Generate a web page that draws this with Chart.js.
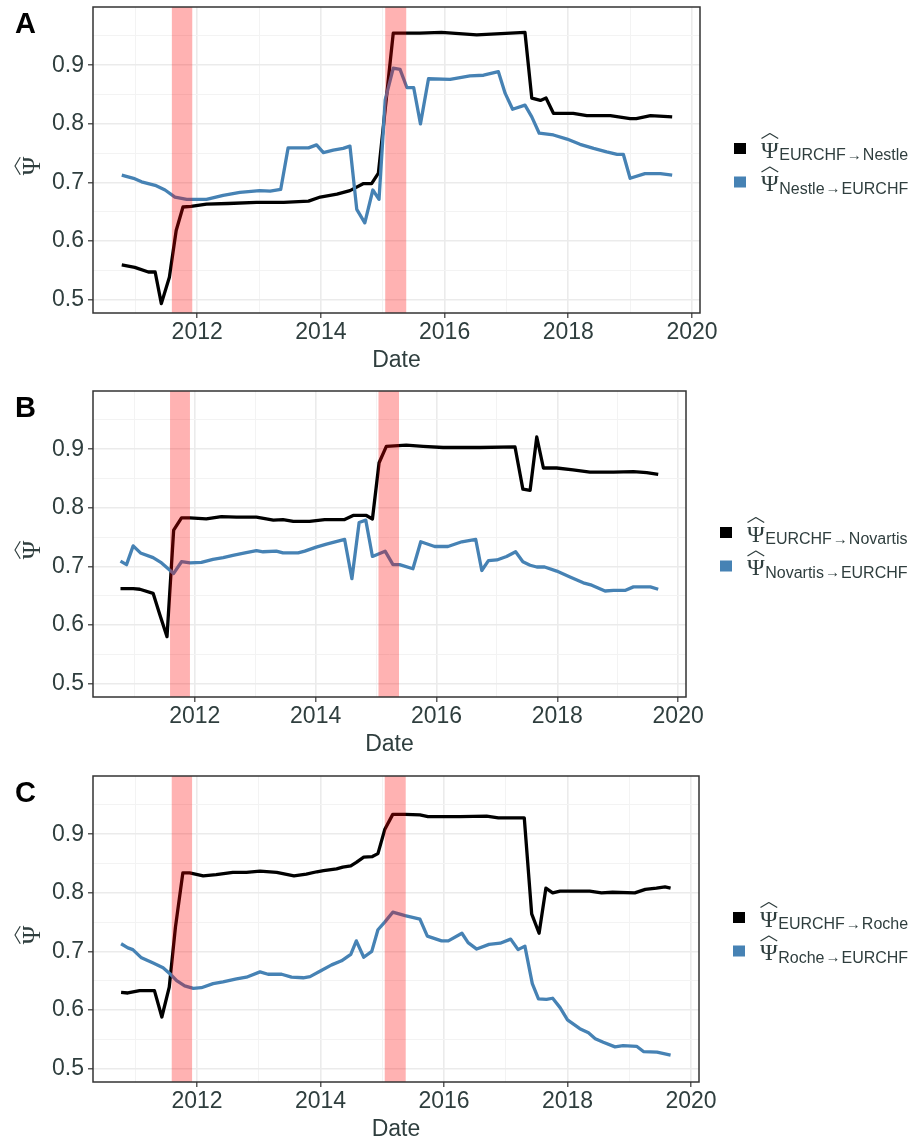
<!DOCTYPE html>
<html>
<head>
<meta charset="utf-8">
<title>Psi panels</title>
<script src="https://cdn.jsdelivr.net/npm/chart.js@4/dist/chart.umd.min.js"></script>
<style>
  html, body { margin: 0; padding: 0; background: #fff; }
  #wrap { position: relative; width: 913px; height: 1144px; overflow: hidden; }
  #wrap canvas { position: absolute; left: 0; }
</style>
</head>
<body>
<div id="wrap">
  <canvas id="panelA" width="913" height="375" style="top:0px"></canvas>
  <canvas id="panelB" width="913" height="375" style="top:384px"></canvas>
  <canvas id="panelC" width="913" height="375" style="top:769px"></canvas>
</div>
<script>
// ─── Data (dates in decimal years) ─────────────
const xTickVals = [2011, 2012, 2013, 2014, 2015, 2016, 2017, 2018, 2019, 2020];
const yTickVals = [0.5, 0.55, 0.6, 0.65, 0.7, 0.75, 0.8, 0.85, 0.9, 0.95];
const bandStart = [2011.59, 2015.04];
const bandEnd   = [2011.92, 2015.38];

// A: Nestle
const nestleOutX = [2010.78, 2010.99, 2011.21, 2011.32, 2011.42, 2011.55, 2011.66, 2011.77, 2011.9, 2012.15, 2012.5, 2012.96, 2013.4, 2013.8, 2013.99, 2014.26, 2014.47, 2014.69, 2014.82, 2014.93, 2015.17, 2015.6, 2015.95, 2016.52, 2017.3, 2017.41, 2017.55, 2017.64, 2017.76, 2018.08, 2018.3, 2018.68, 2019.0, 2019.1, 2019.33, 2019.68];
const nestleOut  = [0.559, 0.555, 0.547, 0.547, 0.493, 0.538, 0.618, 0.658, 0.659, 0.663, 0.664, 0.666, 0.666, 0.668, 0.675, 0.68, 0.686, 0.698, 0.698, 0.716, 0.955, 0.955, 0.956, 0.952, 0.956, 0.844, 0.84, 0.844, 0.818, 0.818, 0.814, 0.814, 0.809, 0.809, 0.814, 0.812];
const nestleInX  = [2010.78, 2010.97, 2011.1, 2011.32, 2011.48, 2011.64, 2011.83, 2012.15, 2012.42, 2012.69, 2013.01, 2013.18, 2013.35, 2013.47, 2013.8, 2013.93, 2014.04, 2014.2, 2014.36, 2014.47, 2014.58, 2014.71, 2014.84, 2014.94, 2015.04, 2015.17, 2015.28, 2015.39, 2015.5, 2015.61, 2015.74, 2016.09, 2016.41, 2016.63, 2016.87, 2016.98, 2017.1, 2017.3, 2017.41, 2017.53, 2017.76, 2017.98, 2018.19, 2018.41, 2018.62, 2018.79, 2018.89, 2019.0, 2019.24, 2019.49, 2019.68];
const nestleIn   = [0.7125, 0.707, 0.701, 0.695, 0.687, 0.675, 0.671, 0.671, 0.678, 0.683, 0.686, 0.685, 0.688, 0.759, 0.759, 0.764, 0.751, 0.755, 0.758, 0.762, 0.654, 0.631, 0.687, 0.671, 0.841, 0.895, 0.893, 0.862, 0.862, 0.8, 0.877, 0.876, 0.882, 0.883, 0.889, 0.852, 0.825, 0.832, 0.812, 0.784, 0.781, 0.774, 0.765, 0.758, 0.752, 0.748, 0.748, 0.707, 0.715, 0.715, 0.7125];

// B: Novartis
const novartisOutX = [2010.77, 2010.98, 2011.09, 2011.31, 2011.42, 2011.54, 2011.65, 2011.78, 2011.92, 2012.19, 2012.44, 2012.69, 2013.02, 2013.3, 2013.46, 2013.63, 2013.9, 2014.15, 2014.48, 2014.62, 2014.84, 2014.94, 2015.05, 2015.17, 2015.5, 2015.78, 2016.11, 2016.72, 2017.3, 2017.43, 2017.55, 2017.66, 2017.77, 2017.99, 2018.26, 2018.54, 2018.93, 2019.26, 2019.48, 2019.67];
const novartisOut  = [0.662, 0.662, 0.661, 0.654, 0.618, 0.58, 0.762, 0.783, 0.783, 0.781, 0.785, 0.784, 0.784, 0.779, 0.78, 0.777, 0.777, 0.78, 0.78, 0.787, 0.787, 0.781, 0.877, 0.905, 0.907, 0.905, 0.903, 0.903, 0.904, 0.832, 0.83, 0.921, 0.868, 0.868, 0.865, 0.861, 0.861, 0.862, 0.86, 0.857];
const novartisInX  = [2010.77, 2010.87, 2010.98, 2011.1, 2011.31, 2011.45, 2011.65, 2011.78, 2011.92, 2012.11, 2012.3, 2012.47, 2012.63, 2012.83, 2013.02, 2013.13, 2013.35, 2013.46, 2013.71, 2013.82, 2014.01, 2014.18, 2014.48, 2014.6, 2014.72, 2014.83, 2014.94, 2015.15, 2015.28, 2015.39, 2015.61, 2015.74, 2015.97, 2016.19, 2016.42, 2016.65, 2016.75, 2016.86, 2017.0, 2017.16, 2017.31, 2017.43, 2017.55, 2017.66, 2017.79, 2017.99, 2018.21, 2018.43, 2018.57, 2018.79, 2018.93, 2019.12, 2019.26, 2019.54, 2019.67];
const novartisIn   = [0.709, 0.703, 0.735, 0.723, 0.715, 0.706, 0.688, 0.708, 0.706, 0.707, 0.712, 0.715, 0.719, 0.723, 0.727, 0.725, 0.726, 0.723, 0.723, 0.726, 0.733, 0.738, 0.746, 0.679, 0.775, 0.779, 0.717, 0.726, 0.703, 0.703, 0.696, 0.742, 0.734, 0.734, 0.742, 0.746, 0.693, 0.71, 0.711, 0.717, 0.725, 0.708, 0.702, 0.699, 0.699, 0.692, 0.682, 0.672, 0.668, 0.658, 0.659, 0.659, 0.665, 0.665, 0.661];

// C: Roche
const rocheOutX = [2010.77, 2010.88, 2011.07, 2011.31, 2011.43, 2011.55, 2011.65, 2011.77, 2011.88, 2012.1, 2012.31, 2012.58, 2012.8, 2013.02, 2013.29, 2013.57, 2013.77, 2013.94, 2014.05, 2014.26, 2014.36, 2014.49, 2014.58, 2014.7, 2014.84, 2014.93, 2015.04, 2015.17, 2015.37, 2015.61, 2015.74, 2016.26, 2016.69, 2016.88, 2017.3, 2017.42, 2017.54, 2017.65, 2017.76, 2017.88, 2018.12, 2018.36, 2018.55, 2018.73, 2019.09, 2019.26, 2019.44, 2019.58, 2019.67];
const rocheOut  = [0.63, 0.629, 0.633, 0.633, 0.588, 0.639, 0.741, 0.834, 0.834, 0.829, 0.831, 0.835, 0.835, 0.837, 0.835, 0.829, 0.832, 0.836, 0.838, 0.841, 0.844, 0.846, 0.852, 0.861, 0.862, 0.867, 0.908, 0.934, 0.934, 0.933, 0.93, 0.93, 0.931, 0.928, 0.928, 0.764, 0.731, 0.808, 0.8, 0.803, 0.803, 0.803, 0.8, 0.801, 0.8, 0.806, 0.808, 0.81, 0.808];
const rocheInX  = [2010.77, 2010.88, 2010.96, 2011.1, 2011.29, 2011.45, 2011.56, 2011.67, 2011.8, 2011.94, 2012.07, 2012.26, 2012.42, 2012.64, 2012.8, 2013.02, 2013.15, 2013.37, 2013.53, 2013.72, 2013.83, 2013.99, 2014.18, 2014.34, 2014.49, 2014.58, 2014.7, 2014.83, 2014.93, 2015.04, 2015.17, 2015.37, 2015.61, 2015.73, 2015.96, 2016.07, 2016.29, 2016.39, 2016.53, 2016.73, 2016.91, 2017.08, 2017.2, 2017.31, 2017.43, 2017.53, 2017.66, 2017.76, 2017.88, 2018.0, 2018.2, 2018.34, 2018.45, 2018.58, 2018.77, 2018.9, 2019.12, 2019.23, 2019.45, 2019.67];
const rocheIn   = [0.713, 0.706, 0.703, 0.689, 0.68, 0.672, 0.662, 0.65, 0.641, 0.637, 0.638, 0.645, 0.648, 0.653, 0.656, 0.665, 0.661, 0.661, 0.656, 0.655, 0.657, 0.666, 0.677, 0.684, 0.695, 0.718, 0.69, 0.7, 0.737, 0.75, 0.767, 0.761, 0.755, 0.726, 0.718, 0.718, 0.731, 0.715, 0.704, 0.712, 0.714, 0.721, 0.703, 0.709, 0.645, 0.619, 0.618, 0.62, 0.604, 0.583, 0.568, 0.561, 0.551, 0.545, 0.537, 0.539, 0.538, 0.529, 0.528, 0.523];

// ─── Style ─────────────────────────────────────
const SANS  = '"Liberation Sans", Arial, sans-serif';
const SERIF = '"Liberation Serif", "DejaVu Serif", serif';
const INK = '#2F3E3E';
const GRID_MAJOR = '#EBEBEB';
const GRID_MINOR = '#F3F3F3';
const BLUE = '#4682B4';

const isMajorY = v => Math.round(v * 100) % 10 === 0;
const isMajorX = v => Math.round(v) % 2 === 0;
const zip = (xs, ys) => xs.map((x, i) => ({ x, y: ys[i] }));

// Ψ with a wide hat, returns glyph width
function drawPsi(ctx, x, base, size) {
  ctx.font = size + 'px ' + SERIF;
  ctx.textAlign = 'left';
  ctx.textBaseline = 'alphabetic';
  ctx.fillText('\u03A8', x, base);
  const w = ctx.measureText('\u03A8').width;
  ctx.beginPath();
  ctx.moveTo(x + 0.5, base - size * 0.79);
  ctx.lineTo(x + w / 2, base - size * 1.0);
  ctx.lineTo(x + w - 0.5, base - size * 0.79);
  ctx.lineWidth = 1.2;
  ctx.lineJoin = 'round';
  ctx.stroke();
  return w;
}

// subscript "A→B"
function drawSub(ctx, x, base, left, right) {
  ctx.font = '16px ' + SANS;
  ctx.fillText(left, x, base);
  x += ctx.measureText(left).width + 1;
  ctx.font = '15px ' + SERIF;
  ctx.fillText('\u2192', x, base - 0.5);
  x += ctx.measureText('\u2192').width + 1;
  ctx.font = '16px ' + SANS;
  ctx.fillText(right, x, base);
}

// ─── Decorations: bands, frame, labels, legend ─
const decor = {
  id: 'decor',
  afterDatasetsDraw(chart) {
    const { ctx, chartArea: a, scales: { x } } = chart;
    ctx.save();
    ctx.beginPath();
    ctx.rect(a.left, a.top, a.right - a.left, a.bottom - a.top);
    ctx.clip();
    ctx.fillStyle = 'rgba(255,0,0,0.3)';
    bandStart.forEach((s, i) => {
      const x0 = x.getPixelForValue(s), x1 = x.getPixelForValue(bandEnd[i]);
      ctx.fillRect(x0, a.top, x1 - x0, a.bottom - a.top);
    });
    ctx.restore();
  },
  afterDraw(chart, args, opts) {
    const { ctx, chartArea: a } = chart;
    ctx.save();
    // panel frame
    ctx.strokeStyle = '#333333';
    ctx.lineWidth = 1.5;
    ctx.strokeRect(a.left, a.top, a.right - a.left, a.bottom - a.top);

    // panel letter
    ctx.fillStyle = '#000';
    ctx.font = 'bold 29px ' + SANS;
    ctx.textAlign = 'left';
    ctx.textBaseline = 'alphabetic';
    ctx.fillText(opts.letter, 15, 32.5);

    // x title
    ctx.fillStyle = INK;
    ctx.font = '23px ' + SANS;
    ctx.textAlign = 'center';
    ctx.fillText('Date', (a.left + a.right) / 2, 366.5);

    // y title (rotated hat-psi)
    ctx.strokeStyle = INK;
    ctx.save();
    ctx.translate(40, (a.top + a.bottom) / 2 + 6);
    ctx.rotate(-Math.PI / 2);
    ctx.font = '25px ' + SERIF;
    const pw = ctx.measureText('\u03A8').width;
    drawPsi(ctx, -pw / 2, 0, 25);
    ctx.restore();

    // legend
    const sqX = a.right + 34;
    opts.legend.forEach((row, i) => {
      const cy = 148.5 + i * 33.5;
      ctx.fillStyle = row.color;
      ctx.fillRect(sqX, cy - 5.5, 12, 11);
      ctx.fillStyle = INK;
      ctx.strokeStyle = INK;
      const px = sqX + 27;
      const w = drawPsi(ctx, px, cy + 9, 24);
      ctx.textAlign = 'left';
      drawSub(ctx, px + w + 0.5, cy + 11.5, row.from, row.to);
    });
    ctx.restore();
  }
};

function makePanel(id, letter, right, outX, out, inX, inn, name) {
  const el = document.getElementById(id);
  return new Chart(el, {
    type: 'line',
    data: {
      datasets: [
        { label: 'EURCHF\u2192' + name, data: zip(outX, out), borderColor: '#000000', order: 2 },
        { label: name + '\u2192EURCHF', data: zip(inX, inn), borderColor: BLUE, order: 1 },
      ],
    },
    plugins: [decor],
    options: {
      responsive: false,
      animation: false,
      devicePixelRatio: 1,
      layout: { padding: { top: 7, left: 0, right: 913 - right, bottom: 0 } },
      elements: {
        point: { radius: 0, hoverRadius: 0 },
        line: { borderWidth: 3.3, tension: 0, borderJoinStyle: 'round', fill: false },
      },
      plugins: {
        legend: { display: false },
        tooltip: { enabled: false },
        decor: {
          letter,
          legend: [
            { color: '#000000', from: 'EURCHF', to: name },
            { color: BLUE, from: name, to: 'EURCHF' },
          ],
        },
      },
      scales: {
        x: {
          type: 'linear',
          min: 2010.315,
          max: 2020.13,
          afterBuildTicks: s => { s.ticks = xTickVals.map(v => ({ value: v })); },
          afterFit: s => { s.height = 62; s.paddingLeft = 0; s.paddingRight = 0; },
          border: { display: false },
          grid: {
            color: c => (c.tick && !isMajorX(c.tick.value)) ? GRID_MINOR : GRID_MAJOR,
            lineWidth: c => (c.tick && !isMajorX(c.tick.value)) ? 1 : 1.6,
            tickColor: c => (c.tick && !isMajorX(c.tick.value)) ? 'rgba(0,0,0,0)' : '#333333',
            tickWidth: 1.2,
            tickLength: 5,
          },
          ticks: {
            autoSkip: false,
            maxRotation: 0,
            padding: 1,
            color: INK,
            font: { family: SANS, size: 23 },
            callback: v => isMajorX(v) ? String(v) : '',
          },
        },
        y: {
          min: 0.477,
          max: 0.9995,
          afterBuildTicks: s => { s.ticks = yTickVals.map(v => ({ value: v })); },
          afterFit: s => { s.width = 93; s.paddingTop = 0; s.paddingBottom = 0; },
          border: { display: false },
          grid: {
            color: c => (c.tick && !isMajorY(c.tick.value)) ? GRID_MINOR : GRID_MAJOR,
            lineWidth: c => (c.tick && !isMajorY(c.tick.value)) ? 1 : 1.6,
            tickColor: c => (c.tick && !isMajorY(c.tick.value)) ? 'rgba(0,0,0,0)' : '#333333',
            tickWidth: 1.2,
            tickLength: 5,
          },
          ticks: {
            padding: 4,
            color: INK,
            font: { family: SANS, size: 23 },
            callback: v => isMajorY(v) ? v.toFixed(1) : '',
          },
        },
      },
    },
  });
}

makePanel('panelA', 'A', 700, nestleOutX, nestleOut, nestleInX, nestleIn, 'Nestle');
makePanel('panelB', 'B', 686, novartisOutX, novartisOut, novartisInX, novartisIn, 'Novartis');
makePanel('panelC', 'C', 699, rocheOutX, rocheOut, rocheInX, rocheIn, 'Roche');
</script>
</body>
</html>
